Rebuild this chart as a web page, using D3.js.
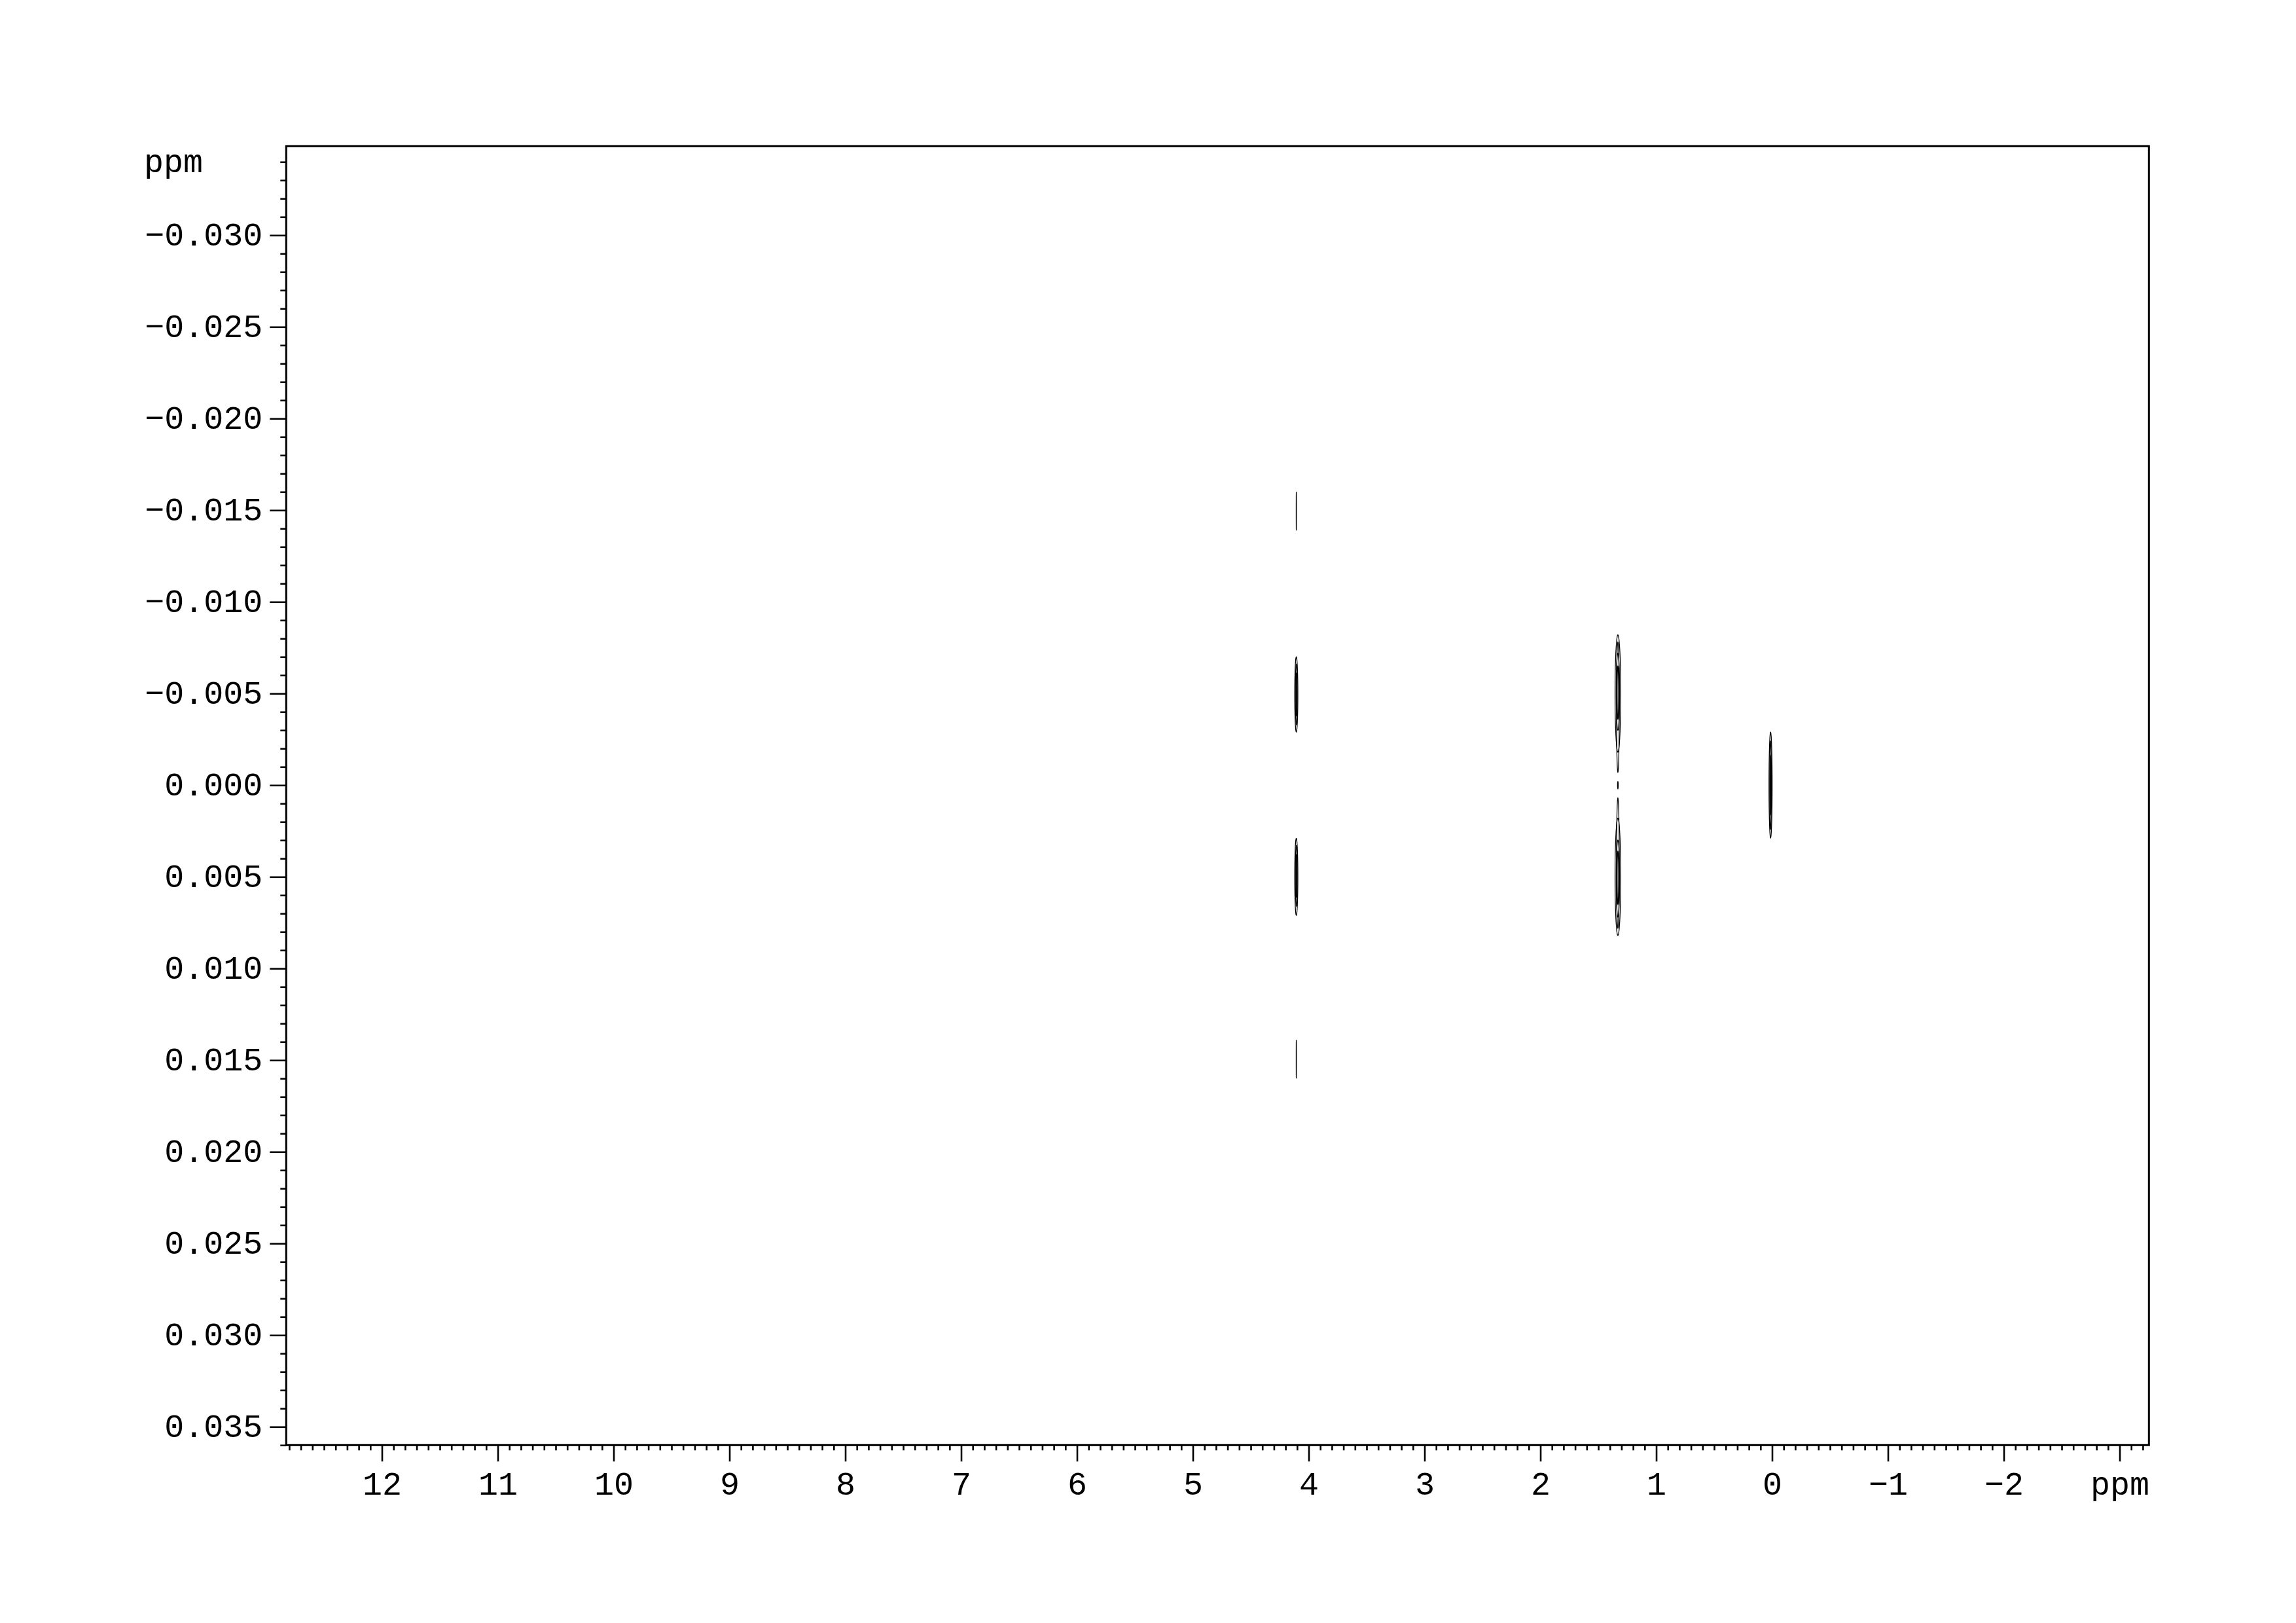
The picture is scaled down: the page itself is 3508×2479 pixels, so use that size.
<!DOCTYPE html>
<html>
<head>
<meta charset="utf-8">
<script src="https://cdn.jsdelivr.net/npm/d3@7"></script>
<style>
  html, body { margin: 0; padding: 0; background: #fff; }
  svg { display: block; }
</style>
</head>
<body>
<svg id="chart" width="3508" height="2479"></svg>
<script>
// ---------- data ----------
// x axis (F2, ppm): reversed NMR axis
const xDomain = [12.826, -3.253];
const xMajorTicks = [12, 11, 10, 9, 8, 7, 6, 5, 4, 3, 2, 1, 0, -1, -2, -3];
const xUnitTick = -3;           // position where "ppm" replaces the number
// y axis (F1, ppm)
const yDomain = [-0.034857, 0.036];
const yMajorTicks = [-0.030, -0.025, -0.020, -0.015, -0.010, -0.005, 0.000,
                     0.005, 0.010, 0.015, 0.020, 0.025, 0.030, 0.035];
const xUnitLabel = "ppm";
const yUnitLabel = "ppm";

// contour lines: peak x (ppm), y extent y0..y1 (ppm), half-width w (ppm)
const peakX    = [4.107, 1.331, 0.013];
const contourPeak = [0, 0, 0, 0, 0, 0, 0, 0,
                     1, 1, 1, 1, 1, 1, 1, 1, 1,
                     2, 2, 2];
const contourY0 = [-0.0160, -0.0070, -0.0066, -0.0061,  0.0029,  0.0033,  0.0038,  0.0139,
                   -0.0082, -0.0078, -0.0072, -0.0065, -0.0002,  0.0018,  0.0007,  0.0030,  0.0036,
                   -0.00289, -0.0024, -0.0016];
const contourY1 = [-0.0139, -0.0029, -0.0033, -0.0038,  0.0071,  0.0066,  0.0061,  0.0160,
                   -0.0018, -0.0007, -0.0030, -0.0036,  0.0002,  0.0082,  0.0078,  0.0072,  0.0065,
                    0.00288,  0.0024,  0.0016];
const contourW  = [0.0008, 0.0135, 0.0080, 0.0035, 0.0135, 0.0080, 0.0035, 0.0008,
                   0.0245, 0.0120, 0.0150, 0.0060, 0.0030, 0.0245, 0.0120, 0.0150, 0.0060,
                   0.0135, 0.0075, 0.0030];

// ---------- layout ----------
const svg = d3.select("#chart");
const W = 3508, H = 2479;
const plot = { left: 437.3, right: 3283.3, top: 223.3, bottom: 2207.3 };
const font = "'Liberation Mono', 'Courier New', monospace";

svg.append("rect").attr("width", W).attr("height", H).attr("fill", "#fff");

const x = d3.scaleLinear().domain(xDomain).range([plot.left, plot.right]);
const y = d3.scaleLinear().domain(yDomain).range([plot.top, plot.bottom]);

// minor tick values
const xMinor = d3.range(128, -33, -1).map(v => v / 10).filter(v => !Number.isInteger(v));
const yMinor = d3.range(-34, 37, 1).map(v => v / 1000).filter(v => Math.round(v * 1000) % 5 !== 0);

// ---------- axes ----------
const yMinorAxis = d3.axisLeft(y).tickValues(yMinor).tickSize(9).tickFormat("");
const yAxis = d3.axisLeft(y).tickValues(yMajorTicks).tickSize(25).tickPadding(11)
  .tickFormat(d3.format(".3f"));
const xMinorAxis = d3.axisBottom(x).tickValues(xMinor).tickSize(8).tickFormat("");
const xAxis = d3.axisBottom(x).tickValues(xMajorTicks).tickSize(25)
  .tickFormat(d => d === xUnitTick ? xUnitLabel : d3.format("d")(d));

function styleAxis(g) {
  g.select(".domain").remove();
  g.selectAll(".tick line").attr("stroke", "#000").attr("stroke-width", 2.6);
  g.selectAll(".tick text").attr("fill", "#000")
    .style("font-family", font).style("font-size", "50px");
}

svg.append("g").attr("transform", `translate(${plot.left},0)`).call(yMinorAxis).call(styleAxis);
const gy = svg.append("g").attr("transform", `translate(${plot.left},0)`).call(yAxis).call(styleAxis);
gy.selectAll(".tick text").attr("dy", "0.31em");

svg.append("g").attr("transform", `translate(0,${plot.bottom})`).call(xMinorAxis).call(styleAxis);
const gx = svg.append("g").attr("transform", `translate(0,${plot.bottom})`).call(xAxis).call(styleAxis);
gx.selectAll(".tick text").attr("y", 76).attr("dy", 0);

// y unit label at the top-left
svg.append("text")
  .attr("x", 220).attr("y", 263)
  .attr("fill", "#000")
  .style("font-family", font).style("font-size", "50px")
  .text(yUnitLabel);

// ---------- contours ----------
const contours = contourPeak.map((p, i) => ({
  cx: peakX[p], y0: contourY0[i], y1: contourY1[i], w: contourW[i]
}));

const line = d3.line().curve(d3.curveLinearClosed);
const N = 80;
const g = svg.append("g");
contours.forEach(c => {
  const mid = (c.y0 + c.y1) / 2, half = (c.y1 - c.y0) / 2;
  const pts = d3.range(N).map(k => {
    const t = 2 * Math.PI * k / N;
    return [x(c.cx + c.w * Math.cos(t)), y(mid + half * Math.sin(t))];
  });
  g.append("path")
    .attr("d", line(pts))
    .attr("fill", "none")
    .attr("stroke", "#000")
    .attr("stroke-width", 1.25);
});

// ---------- frame ----------
svg.append("rect")
  .attr("x", x(xDomain[0])).attr("y", y(yDomain[0]))
  .attr("width", x(xDomain[1]) - x(xDomain[0]))
  .attr("height", y(yDomain[1]) - y(yDomain[0]))
  .attr("fill", "none").attr("stroke", "#000").attr("stroke-width", 3);
</script>
</body>
</html>
